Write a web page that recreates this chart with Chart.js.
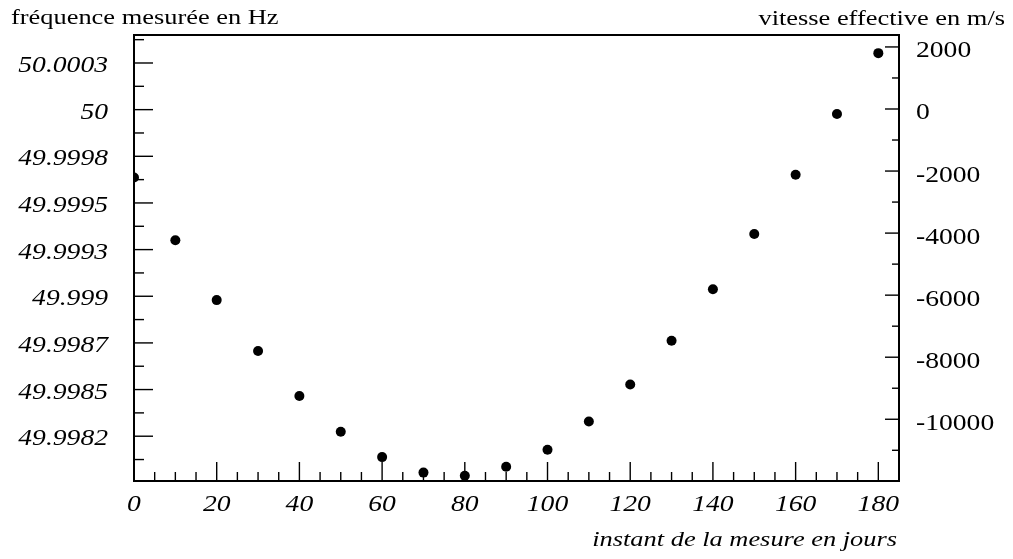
<!DOCTYPE html>
<html lang="fr">
<head>
    <meta charset="UTF-8">
    <title>fréquence mesurée / vitesse effective</title>
    <script src="https://cdn.jsdelivr.net/npm/chart.js"></script>
    <style>
        body {
            margin: 0;
            background-color: #fff;
        }
        canvas {
            display: block;
        }
    </style>
</head>
<body>
    <canvas id="mesures" width="1013" height="559"></canvas>

    <script>
        // instant de la mesure (jours) et vitesse effective (m/s)
        const days = [0, 10, 20, 30, 40, 50, 60, 70, 80, 90, 100, 110, 120, 130, 140, 150, 160, 170, 180];
        const velocity = [-2210, -4230, -6160, -7800, -9250, -10400, -11220, -11720, -11820, -11530,
                          -10980, -10070, -8880, -7470, -5810, -4030, -2120, -160, 1800];

        // graduations
        const dayTicks = [0, 20, 40, 60, 80, 100, 120, 140, 160, 180];
        const freqTicks = [49.99825, 49.9985, 49.99875, 49.999, 49.99925, 49.9995, 49.99975, 50, 50.00025];
        const freqLabels = ['49.9982', '49.9985', '49.9987', '49.999', '49.9993', '49.9995', '49.9998', '50', '50.0003'];
        const velocityTicks = [-10000, -8000, -6000, -4000, -2000, 0, 2000];

        const SERIF = '"Liberation Serif", "Times New Roman", serif';
        const STRETCH = 1.2;

        function text(ctx, str, x, y, align, font) {
            ctx.save();
            ctx.translate(x, y);
            ctx.scale(STRETCH, 1);
            ctx.font = font;
            ctx.textAlign = align;
            ctx.textBaseline = 'alphabetic';
            ctx.fillStyle = '#000';
            ctx.fillText(str, 0, 0);
            ctx.restore();
        }

        function line(ctx, x1, y1, x2, y2) {
            ctx.beginPath();
            ctx.moveTo(x1, y1);
            ctx.lineTo(x2, y2);
            ctx.stroke();
        }

        // ticks pointing inward, frame top line, labels
        const axesPlugin = {
            id: 'axesPlugin',
            beforeDatasetsDraw(chart) {
                const ctx = chart.ctx;
                const a = chart.chartArea;
                const x = chart.scales.x, yf = chart.scales.yf, yv = chart.scales.yv;
                ctx.save();
                ctx.strokeStyle = '#000';
                ctx.lineWidth = 2;
                line(ctx, a.left - 1, a.top, a.right + 1, a.top);

                ctx.lineWidth = 1.4;
                for (let d = 0; d <= 180; d += 5) {
                    const px = x.getPixelForValue(d);
                    const len = dayTicks.includes(d) ? 19 : 9;
                    line(ctx, px, a.bottom, px, a.bottom - len);
                }
                for (let k = -15; k <= 3; k++) {
                    const v = 50 + k * 0.000125;
                    const py = yf.getPixelForValue(v);
                    const len = k % 2 === 0 ? 19 : 10;
                    line(ctx, a.left, py, a.left + len, py);
                }
                for (let v = -11000; v <= 2000; v += 1000) {
                    const py = yv.getPixelForValue(v);
                    const len = v % 2000 === 0 ? 14 : 7;
                    line(ctx, a.right, py, a.right - len, py);
                }
                ctx.restore();
            },
            afterDraw(chart) {
                const ctx = chart.ctx;
                const a = chart.chartArea;
                const x = chart.scales.x, yf = chart.scales.yf, yv = chart.scales.yv;
                const tickFontIt = 'italic 23px ' + SERIF;
                const tickFont = '23px ' + SERIF;
                const titleFont = '22px ' + SERIF;

                dayTicks.forEach(d => {
                    text(ctx, String(d), x.getPixelForValue(d), a.bottom + 30, 'center', tickFontIt);
                });
                freqTicks.forEach((f, i) => {
                    text(ctx, freqLabels[i], a.left - 26, yf.getPixelForValue(f) + 9, 'right', tickFontIt);
                });
                velocityTicks.forEach(v => {
                    text(ctx, String(v), a.right + 17, yv.getPixelForValue(v) + 10.5, 'left', tickFont);
                });

                text(ctx, 'fréquence mesurée en Hz', 11, 24, 'left', titleFont);
                text(ctx, 'vitesse effective en m/s', 1005, 25, 'right', titleFont);
                text(ctx, 'instant de la mesure en jours', 897, 546, 'right', 'italic ' + titleFont);
            }
        };

        const frame = { display: true, color: '#000', width: 2 };

        new Chart(document.getElementById('mesures'), {
            type: 'scatter',
            data: {
                datasets: [{
                    label: 'vitesse effective',
                    data: days.map((d, i) => ({ x: d, y: velocity[i] })),
                    yAxisID: 'yv',
                    pointRadius: 5,
                    pointHoverRadius: 5,
                    pointBackgroundColor: '#000',
                    pointBorderColor: '#000',
                    pointBorderWidth: 0,
                    showLine: false,
                    clip: 0
                }]
            },
            options: {
                responsive: false,
                animation: false,
                layout: { padding: { top: 35, left: 0, right: 0, bottom: 0 } },
                plugins: {
                    legend: { display: false },
                    tooltip: { enabled: false }
                },
                scales: {
                    x: {
                        type: 'linear',
                        position: 'bottom',
                        min: 0,
                        max: 185,
                        grid: { display: false, drawTicks: false },
                        ticks: { display: false },
                        border: frame,
                        afterFit: s => { s.height = 78; }
                    },
                    yf: {
                        type: 'linear',
                        position: 'left',
                        min: 49.99801,
                        max: 50.0004,
                        grid: { display: false, drawTicks: false },
                        ticks: { display: false },
                        border: frame,
                        afterFit: s => { s.width = 134; }
                    },
                    yv: {
                        type: 'linear',
                        position: 'right',
                        min: -11990,
                        max: 2385,
                        grid: { display: false, drawTicks: false },
                        ticks: { display: false },
                        border: frame,
                        afterFit: s => { s.width = 114; }
                    }
                }
            },
            plugins: [axesPlugin]
        });
    </script>
</body>
</html>
